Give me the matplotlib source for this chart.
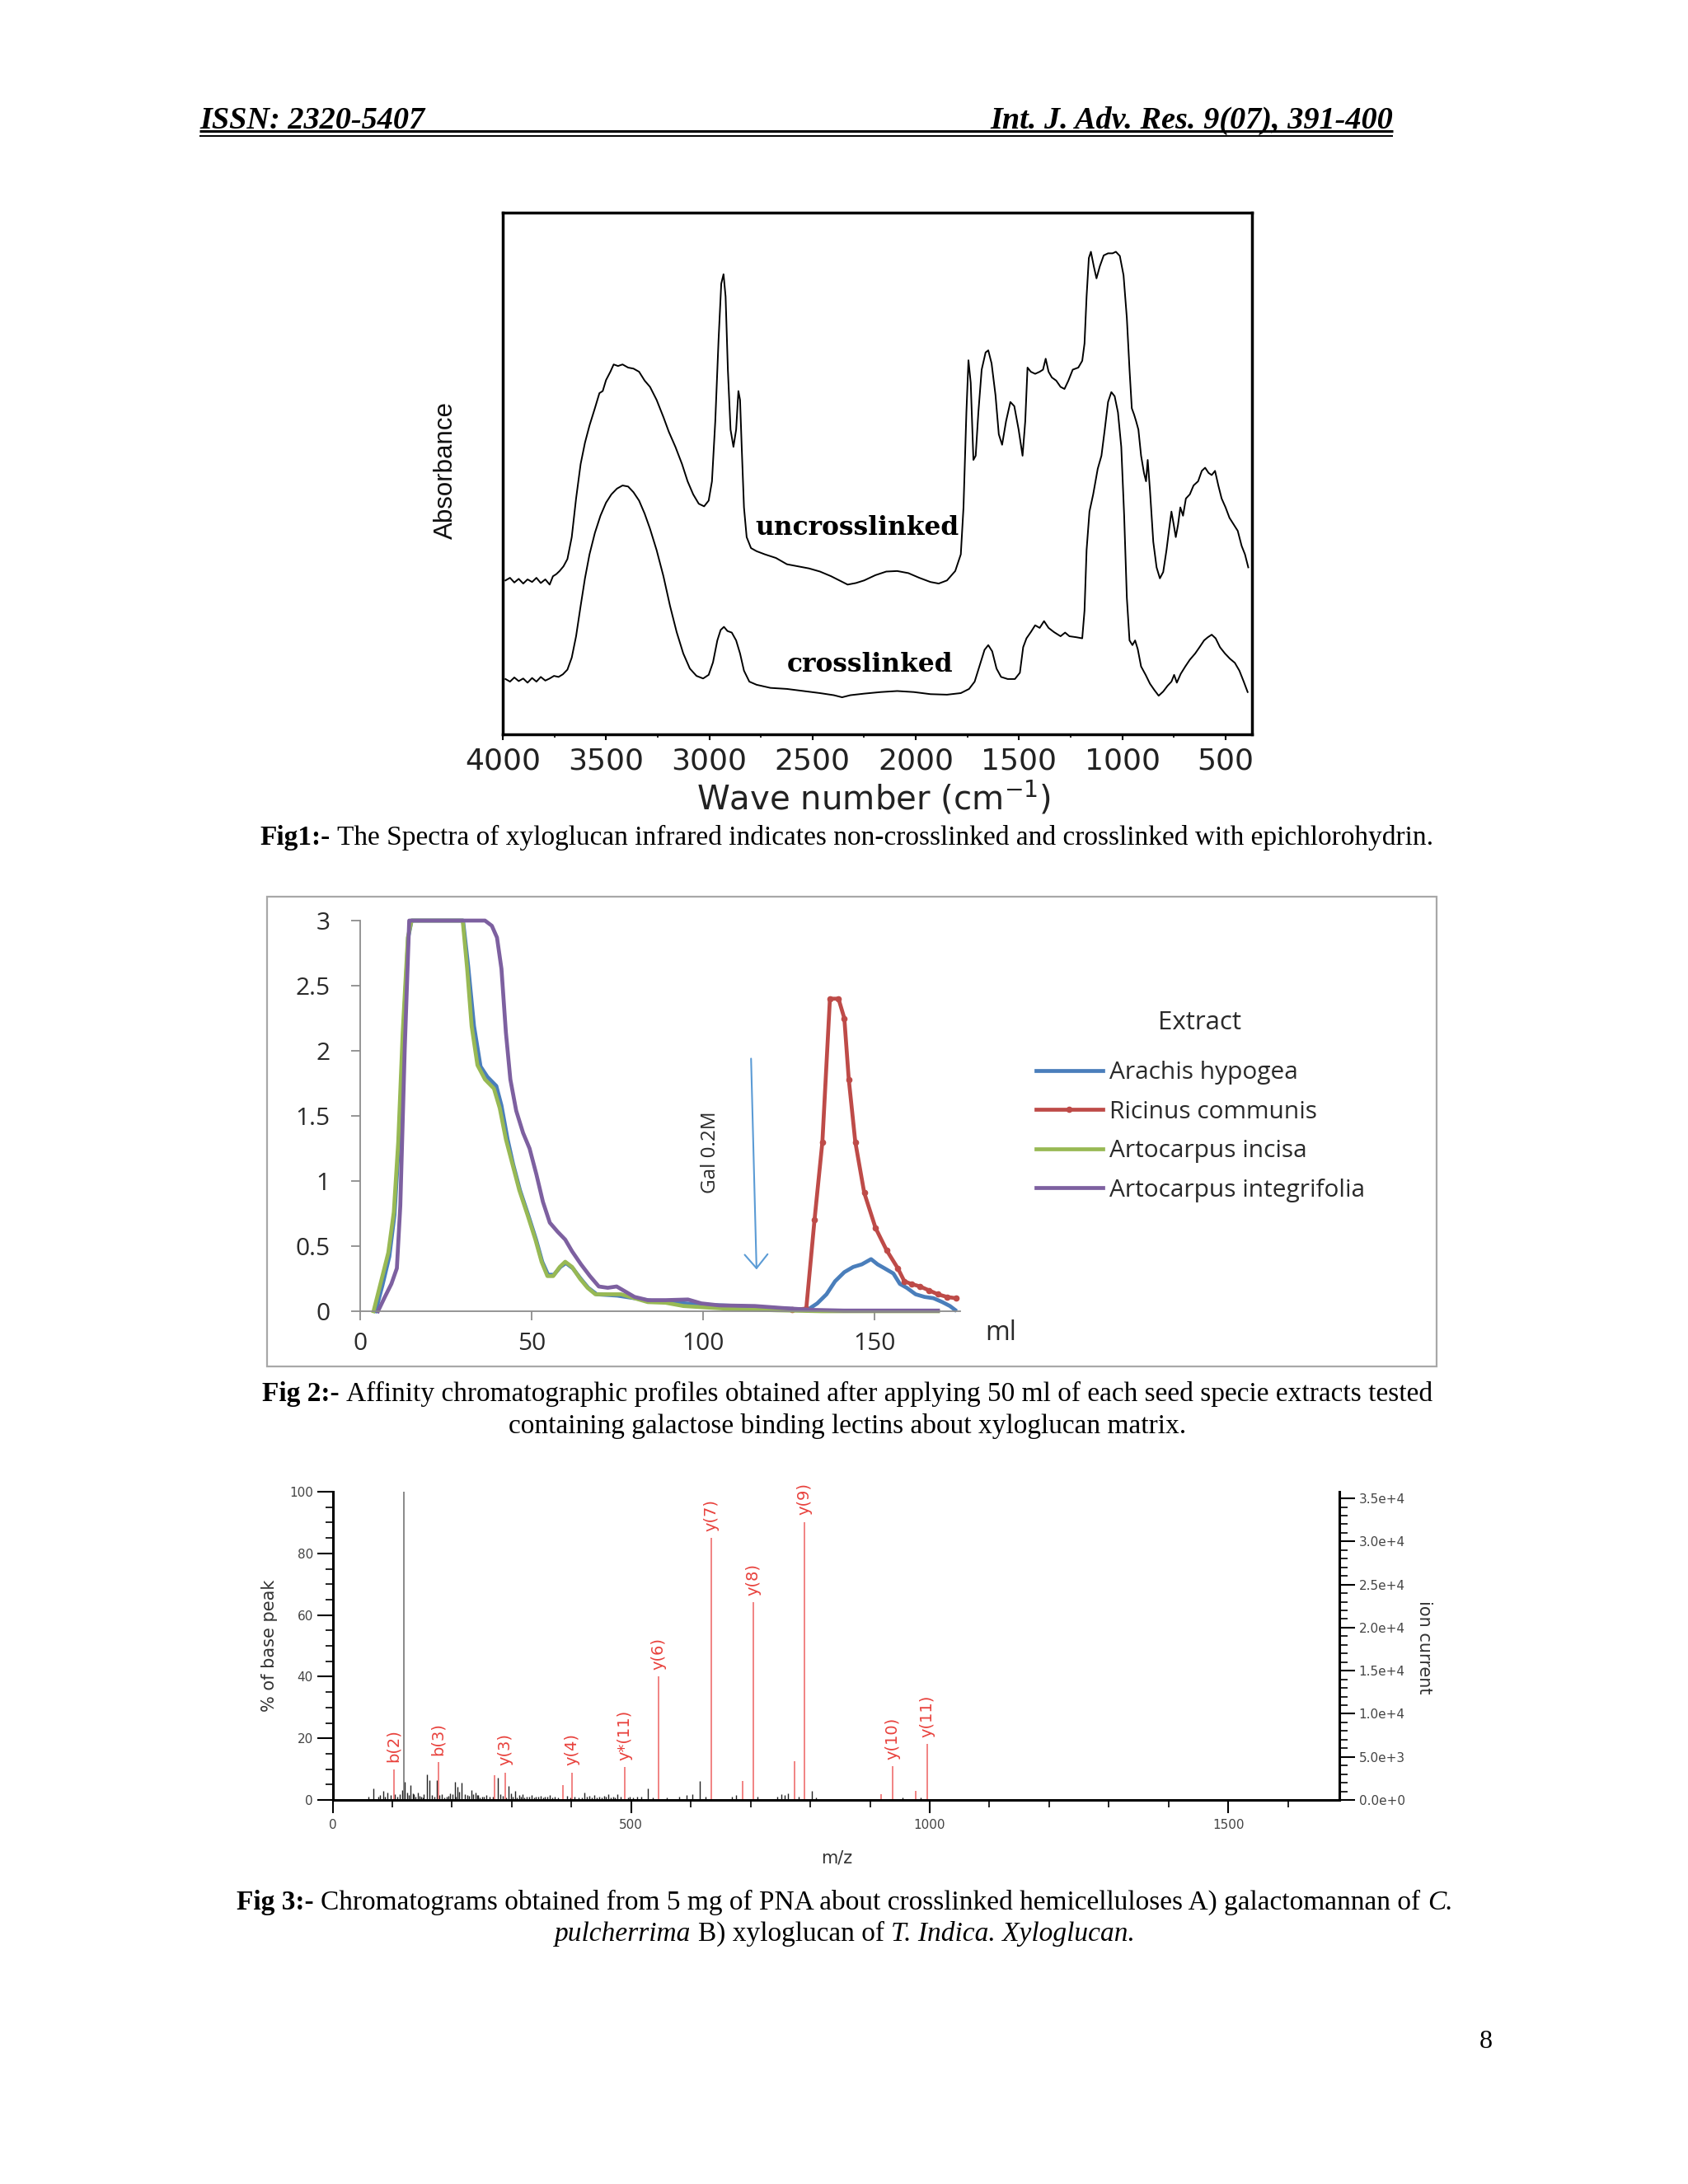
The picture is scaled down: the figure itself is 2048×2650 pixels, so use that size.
import matplotlib
matplotlib.use('Agg')
import matplotlib.pyplot as plt
from matplotlib.patches import Rectangle
from matplotlib.ticker import MultipleLocator

W, H = 2048, 2650

# ---------------- Fig 1: IR spectra (absorbance in arbitrary units) ----------------
UNCROSS_WN = [
    3987, 3965, 3944, 3923, 3901, 3880, 3858, 3837, 3816, 3794,
    3773, 3757, 3741, 3725, 3706, 3687, 3666, 3645, 3623, 3602,
    3580, 3554, 3532, 3516, 3500, 3479, 3463, 3442, 3420, 3393,
    3367, 3340, 3313, 3287, 3255, 3222, 3196, 3164, 3132, 3105,
    3078, 3051, 3025, 3003, 2987, 2971, 2955, 2942, 2931, 2921,
    2910, 2897, 2883, 2870, 2859, 2851, 2843, 2832, 2819, 2798,
    2771, 2731, 2677, 2624, 2570, 2517, 2464, 2410, 2370, 2330,
    2290, 2250, 2196, 2143, 2090, 2036, 1983, 1929, 1889, 1849,
    1809, 1782, 1769, 1755, 1745, 1734, 1721, 1710, 1697, 1681,
    1662, 1649, 1633, 1614, 1598, 1582, 1563, 1542, 1523, 1502,
    1483, 1470, 1459, 1443, 1422, 1400, 1384, 1371, 1357, 1341,
    1320, 1299, 1280, 1261, 1240, 1213, 1194, 1183, 1173, 1162,
    1152, 1138, 1125, 1109, 1090, 1069, 1047, 1031, 1012, 994,
    978, 965, 954, 943, 933, 922, 909, 895, 885, 877,
    866, 850, 834, 818, 802, 786, 773, 762, 751, 741,
    730, 719, 706, 692, 673, 655, 633, 615, 599, 582,
    567, 551, 535, 519, 500, 481, 460, 441, 422, 406,
    390]
UNCROSS_ABS = [
    .295, .300, .291, .298, .289, .297, .292, .300, .290, .297,
    .287, .303, .307, .313, .322, .336, .378, .452, .518, .559,
    .592, .625, .654, .658, .679, .695, .709, .706, .709, .703,
    .701, .695, .678, .666, .641, .608, .580, .551, .518, .485,
    .460, .442, .437, .448, .485, .600, .757, .864, .882, .839,
    .699, .584, .551, .584, .658, .641, .551, .435, .378, .357,
    .351, .345, .338, .326, .322, .318, .312, .303, .295, .287,
    .290, .295, .305, .312, .313, .309, .300, .292, .289, .295,
    .313, .345, .435, .617, .717, .674, .526, .534, .617, .699,
    .732, .736, .711, .650, .575, .555, .600, .637, .629, .584,
    .534, .600, .703, .695, .691, .695, .699, .720, .695, .684,
    .678, .666, .662, .678, .699, .703, .716, .749, .839, .913,
    .925, .897, .874, .897, .918, .922, .922, .925, .917, .880,
    .798, .699, .625, .613, .600, .584, .534, .501, .485, .526,
    .468, .369, .320, .299, .311, .353, .394, .427, .402, .378,
    .402, .435, .419, .452, .460, .477, .485, .505, .511, .501,
    .497, .505, .477, .452, .435, .415, .402, .390, .361, .345,
    .320]
CROSS_WN = [
    3987, 3965, 3944, 3923, 3901, 3880, 3858, 3837, 3816, 3794,
    3773, 3752, 3730, 3709, 3687, 3666, 3645, 3623, 3602, 3580,
    3554, 3527, 3500, 3474, 3447, 3420, 3393, 3367, 3340, 3313,
    3287, 3255, 3222, 3190, 3158, 3126, 3094, 3062, 3030, 3003,
    2982, 2961, 2945, 2929, 2912, 2891, 2870, 2851, 2832, 2806,
    2771, 2704, 2624, 2544, 2464, 2397, 2357, 2317, 2250, 2170,
    2090, 2009, 1929, 1849, 1782, 1742, 1715, 1689, 1667, 1649,
    1630, 1609, 1587, 1555, 1520, 1496, 1480, 1464, 1443, 1422,
    1400, 1379, 1357, 1331, 1299, 1277, 1256, 1221, 1194, 1183,
    1173, 1159, 1141, 1119, 1101, 1085, 1069, 1053, 1037, 1021,
    1005, 991, 978, 965, 951, 938, 925, 909, 887, 866,
    845, 824, 802, 781, 762, 749, 736, 717, 695, 673,
    647, 626, 604, 586, 567, 548, 527, 503, 479, 455,
    433, 412, 393]
CROSS_ABS = [
    .106, .101, .109, .102, .107, .099, .108, .101, .110, .103,
    .107, .112, .110, .115, .124, .147, .188, .246, .299, .345,
    .386, .419, .444, .460, .471, .477, .475, .464, .448, .423,
    .394, .353, .303, .246, .196, .155, .126, .112, .107, .114,
    .138, .180, .200, .206, .198, .195, .180, .155, .122, .101,
    .095, .089, .087, .083, .079, .075, .071, .075, .078, .081,
    .083, .081, .077, .076, .079, .087, .101, .134, .162, .171,
    .159, .126, .110, .106, .106, .118, .167, .184, .196, .209,
    .204, .217, .204, .196, .188, .195, .188, .186, .184, .237,
    .353, .427, .460, .509, .534, .584, .637, .656, .648, .617,
    .551, .419, .262, .180, .171, .180, .163, .130, .114, .097,
    .085, .074, .082, .093, .101, .114, .099, .116, .130, .143,
    .155, .167, .180, .186, .191, .184, .167, .155, .145, .137,
    .122, .101, .081]
WN_TICKS = [4000, 3500, 3000, 2500, 2000, 1500, 1000, 500]

# ---------------- Fig 2: affinity chromatography ----------------
SPECIES = ['Arachis hypogea', 'Ricinus communis', 'Artocarpus incisa', 'Artocarpus integrifolia']
COLORS = ['#4a7ebb', '#be4b48', '#98b954', '#7d60a0']

ARACHIS_ML = [4.5, 6.5, 8.5, 10, 11.3, 12.6, 14, 15, 30, 31.5, 33.2, 35.1, 37.1, 39.7,
              41.2, 43, 44.6, 46.6, 49, 51.3, 53.1, 54.8, 56.5, 58.4, 60, 62, 64.3, 66.5,
              69, 75, 80, 85, 90, 95, 100, 110, 120, 128, 131, 133.3, 136, 138.5, 141.2,
              143.8, 146.3, 149, 150.9, 152.9, 155.5, 157.4, 159.4, 162, 164.6, 167.2,
              169.8, 172, 173.5]
ARACHIS_ABS = [0, 0.2, 0.42, 0.74, 1.3, 2.14, 2.87, 3.0, 3.0, 2.65, 2.19, 1.88, 1.80, 1.73,
               1.58, 1.32, 1.13, 0.93, 0.74, 0.55, 0.38, 0.28, 0.28, 0.34, 0.37, 0.33, 0.25, 0.18,
               0.13, 0.12, 0.10, 0.08, 0.07, 0.06, 0.05, 0.04, 0.025, 0.015, 0.02, 0.06, 0.13,
               0.23, 0.30, 0.34, 0.36, 0.40, 0.36, 0.33, 0.29, 0.21, 0.18, 0.13, 0.11, 0.10,
               0.07, 0.04, 0.01]
RICINUS_ML = [126, 130.1, 132.5, 134.8, 137, 139.5, 141.2, 142.5, 144.4, 147, 150.3, 153.5,
              156.8, 158.7, 160.7, 163.3, 165.9, 168.5, 171.1, 173.7]
RICINUS_ABS = [0.01, 0.02, 0.7, 1.30, 2.4, 2.4, 2.25, 1.78, 1.30, 0.91, 0.64, 0.47,
               0.33, 0.23, 0.21, 0.19, 0.16, 0.13, 0.11, 0.10]
INCISA_ML = [3.9, 6.1, 8.2, 9.8, 11.1, 12.4, 13.9, 15.0, 29.9, 31.2, 32.5, 34.2, 36.4, 39.0,
             40.7, 42.5, 44.4, 46.4, 48.8, 51.1, 52.9, 54.6, 56.3, 58.2, 59.8, 61.8, 64.1,
             66.3, 68.6, 72.2, 76.1, 80.0, 83.9, 89.1, 94.3, 100.2, 108.6, 121.6, 134.6, 168.5]
INCISA_ABS = [0, 0.23, 0.45, 0.76, 1.30, 2.14, 2.87, 3.0, 3.0, 2.63, 2.19, 1.89, 1.78, 1.71,
              1.56, 1.32, 1.13, 0.93, 0.74, 0.55, 0.38, 0.27, 0.27, 0.34, 0.38, 0.34, 0.25,
              0.18, 0.13, 0.13, 0.13, 0.10, 0.07, 0.065, 0.04, 0.03, 0.017, 0.007, 0, 0]
INTEGRI_ML = [5.2, 7.2, 9.1, 10.7, 11.7, 13.0, 14.3, 36.4, 38.4, 39.9, 41.2, 42.5, 43.8, 45.5,
              47.5, 49.4, 51.4, 53.3, 55.3, 57.6, 59.8, 61.8, 64.4, 67.0, 69.6, 72.2, 74.8,
              77.4, 80.0, 83.9, 89.1, 95.6, 99.5, 104.7, 115.1, 122.9, 132.0, 141.1, 168.5]
INTEGRI_ABS = [0, 0.11, 0.21, 0.33, 0.81, 2.02, 3.0, 3.0, 2.96, 2.87, 2.63, 2.14, 1.78, 1.54,
               1.37, 1.25, 1.05, 0.84, 0.68, 0.61, 0.55, 0.46, 0.36, 0.27, 0.19, 0.18, 0.19,
               0.15, 0.11, 0.085, 0.085, 0.09, 0.06, 0.045, 0.04, 0.025, 0.01, 0.005, 0.005]
ML_TICKS = [0, 50, 100, 150]
ABS_TICKS = [0, 0.5, 1, 1.5, 2, 2.5, 3]
ABS_TICK_LABELS = ['0', '0.5', '1', '1.5', '2', '2.5', '3']
GAL_START_ML, GAL_END_ML = 114, 115.6
GAL_START_ABS, GAL_END_ABS = 1.94, 0.32

# ---------------- Fig 3: MS/MS spectrum ----------------
ION_LABELS = ['b(2)', 'b(3)', 'y(3)', 'y(4)', 'y*(11)', 'y(6)', 'y(7)', 'y(8)', 'y(9)', 'y(10)', 'y(11)']
ION_MZ = [102.3, 177, 289, 401.6, 489.5, 545.8, 633.6, 704.2, 790.8, 937.7, 995.5]
ION_PCT = [10.0, 12.2, 8.9, 8.9, 10.7, 40.1, 85.0, 64.2, 90.2, 10.9, 18.2]
OTHER_RED_MZ = [271.5, 385.5, 687.1, 773, 919, 976.8]
OTHER_RED_PCT = [8.0, 4.8, 6.2, 12.7, 1.8, 3.0]
BASE_PEAK_MZ = 119.3
NOISE_MZ = [59.5, 68.7, 76, 84.8, 91.7, 97, 112.4, 116, 120.7, 125, 131, 136, 142.5, 148, 153,
            157.7, 161.8, 166, 174.9, 183, 191, 197, 204.8, 209.4, 212, 216.3, 221, 226, 232.4,
            236, 239.3, 244, 250, 257.7, 263, 276.1, 281, 294.5, 299, 306, 312, 318, 325, 333,
            340, 348, 356, 364, 372, 392, 421.4, 430, 438, 446, 455, 462, 470, 477, 498, 510,
            528.5, 560, 580, 593, 602, 615, 624, 669, 676, 712, 744, 752, 757, 763, 780, 802,
            810, 955, 985,
            80, 88, 104, 109, 127, 134, 139, 145, 151, 171, 179, 187, 194, 201, 207, 229, 242,
            247, 253, 268, 285, 290, 302, 309, 315, 321, 329, 337, 344, 352, 360, 368, 378,
            398, 405, 412, 417, 426, 434, 442, 451, 458, 466, 473, 482, 495, 503, 517, 536]
NOISE_PCT = [1.0, 3.7, 1.2, 2.9, 2.4, 1.5, 2.0, 3.2, 6.0, 2.5, 4.8, 1.8, 2.4, 1.2, 2.0,
             8.4, 6.4, 1.5, 6.4, 1.8, 1.0, 2.2, 6.0, 4.2, 2.6, 5.5, 2.0, 1.6, 3.3,
             2.0, 2.4, 1.5, 1.2, 1.5, 1.0, 7.1, 2.0, 4.5, 2.2, 2.9, 1.5, 1.8, 1.2, 1.5,
             1.0, 1.4, 1.2, 1.6, 1.0, 1.3, 2.4, 1.3, 1.6, 1.0, 1.4, 1.8, 1.2, 2.0, 1.0, 1.2,
             3.7, 0.8, 1.0, 1.5, 2.0, 6.2, 1.0, 1.0, 1.5, 1.0, 1.2, 2.0, 1.5, 2.2, 1.0, 3.0,
             0.8, 0.8, 0.8,
             1.5, 1.0, 1.8, 1.2, 1.6, 2.2, 1.0, 1.4, 0.9, 1.2, 1.5, 0.8, 1.3, 1.9, 1.1, 1.4, 1.7,
             0.9, 1.2, 1.0, 1.3, 0.8, 1.1, 0.9, 1.2, 0.8, 1.0, 0.9, 1.1, 0.8, 1.0, 0.9, 0.8,
             0.9, 1.0, 0.8, 0.9, 1.1, 0.8, 0.9, 0.8, 1.0, 0.9, 0.8, 1.1, 0.9, 0.8, 1.0, 0.9]
BASE_PEAK_COUNTS = 35770
CURRENT_TICKS = [0, 5000, 10000, 15000, 20000, 25000, 30000, 35000]
CURRENT_TICK_LABELS = ['0.0e+0', '5.0e+3', '1.0e+4', '1.5e+4', '2.0e+4', '2.5e+4', '3.0e+4', '3.5e+4']


fig = plt.figure(figsize=(W / 100, H / 100), dpi=100)
fig.patch.set_facecolor('white')


def box(x0, y0, x1, y1):
    # page pixel box -> figure fraction rect
    return [x0 / W, 1 - y1 / H, (x1 - x0) / W, (y1 - y0) / H]


# page layer in pixel coordinates (y down)
page = fig.add_axes([0, 0, 1, 1])
page.set_xlim(0, W)
page.set_ylim(H, 0)
page.axis('off')

SERIF = 'Liberation Serif'


def caption_line(parts, xc, y, size=24):
    # parts: (text, weight, style); consecutive runs separated by a space
    first = prev = None
    for s, weight, style in parts:
        kw = dict(family=SERIF, fontsize=size, weight=weight, style=style, color='black')
        if prev is None:
            t = page.text(0, y, s, ha='left', va='baseline', **kw)
            first = t
        else:
            t = page.annotate(s, xy=(1, 0), xycoords=prev, xytext=(0.25 * size, 0),
                              textcoords='offset points', ha='left', va='bottom', **kw)
        prev = t
    r = fig.canvas.get_renderer()
    x0 = first.get_window_extent(r).x0
    x1 = prev.get_window_extent(r).x1
    first.set_x(xc - (x1 - x0) / 2)


# header
hdr = dict(family=SERIF, weight='bold', style='italic', fontsize=27.5)
page.text(242, 156, 'ISSN: 2320-5407', ha='left', va='baseline', **hdr)
page.text(1690, 156, 'Int. J. Adv. Res. 9(07), 391-400', ha='right', va='baseline', **hdr)
page.plot([242, 1690], [159, 159], color='black', lw=2.2, solid_capstyle='butt')
page.plot([242, 1690], [165, 165], color='black', lw=1.4, solid_capstyle='butt')

# ---------------- Fig 1 ----------------
ax1 = fig.add_axes(box(610, 258, 1519, 891))
ax1.plot(UNCROSS_WN, UNCROSS_ABS, color='black', lw=1.4)
ax1.plot(CROSS_WN, CROSS_ABS, color='black', lw=1.4)
ax1.set_xlim(4000, 372)
ax1.set_ylim(0, 1)
ax1.set_yticks([])
ax1.set_xticks(WN_TICKS)
ax1.xaxis.set_minor_locator(MultipleLocator(250))
ax1.tick_params(axis='x', which='major', length=5, width=1.5, pad=6, labelsize=26,
                labelfontfamily='DejaVu Sans', labelcolor='#222222')
ax1.tick_params(axis='x', which='minor', length=3, width=1.2)
for s in ax1.spines.values():
    s.set_linewidth(2.5)
ax1.text(2284, 0.395, 'uncrosslinked', ha='center', va='center',
         family='DejaVu Serif', weight='bold', fontsize=22.5)
ax1.text(2220, 0.133, 'crosslinked', ha='center', va='center',
         family='DejaVu Serif', weight='bold', fontsize=22.5)
page.text(541, 571, 'Absorbance', rotation=90, ha='center', va='center',
          family='Liberation Sans', fontsize=22.5, color='#111111')
page.text(1060, 983, r'Wave number (cm$^{-1}$)', ha='center', va='baseline',
          family='DejaVu Sans', fontsize=29, color='#222222')

caption_line([('Fig1:-', 'bold', 'normal'),
              ('The Spectra of xyloglucan infrared indicates non-crosslinked and crosslinked with epichlorohydrin.',
               'normal', 'normal')], 1027, 1025)

# ---------------- Fig 2 ----------------
page.add_patch(Rectangle((324, 1088), 1419, 570, fill=False, edgecolor='#a8a8a8', lw=1.6))
ax2 = fig.add_axes(box(437, 1117, 1165, 1591))
ax2.plot(ARACHIS_ML, ARACHIS_ABS, color=COLORS[0], lw=3.4, clip_on=False, label=SPECIES[0])
ax2.plot(RICINUS_ML, RICINUS_ABS, color=COLORS[1], lw=3.4, marker='o', ms=4.5, clip_on=False, label=SPECIES[1])
ax2.plot(INCISA_ML, INCISA_ABS, color=COLORS[2], lw=3.4, clip_on=False, label=SPECIES[2])
ax2.plot(INTEGRI_ML, INTEGRI_ABS, color=COLORS[3], lw=3.4, clip_on=False, label=SPECIES[3])
ax2.set_xlim(0, 175)
ax2.set_ylim(0, 3)
ax2.set_xticks(ML_TICKS)
ax2.set_yticks(ABS_TICKS)
ax2.set_yticklabels(ABS_TICK_LABELS)
ax2.patch.set_alpha(0)
ax2.spines[['top', 'right']].set_visible(False)
for side in ['left', 'bottom']:
    ax2.spines[side].set_color('#8c8c8c')
    ax2.spines[side].set_linewidth(1.3)
ax2.tick_params(axis='both', length=8, width=1.3, color='#8c8c8c', labelsize=21.5,
                labelfontfamily='Open Sans', labelcolor='#2a2a2a')
ax2.tick_params(axis='y', pad=18)
ax2.tick_params(axis='x', pad=10)
ax2.annotate('', xy=(GAL_END_ML, GAL_END_ABS), xytext=(GAL_START_ML, GAL_START_ABS),
             arrowprops=dict(arrowstyle='->,head_length=0.6,head_width=0.5', color='#5b9bd5',
                             lw=1.5, mutation_scale=20, shrinkA=0, shrinkB=0))
page.text(862, 1398, 'Gal 0.2M', rotation=90, ha='center', va='center',
          family='Open Sans', fontsize=17.5, color='#2a2a2a')
page.text(1214, 1618, 'ml', ha='center', va='center', family='Open Sans', fontsize=23, color='#2a2a2a')
leg = ax2.legend(loc='center left', bbox_to_anchor=(1257 / W, 1 - 1373 / H),
                 bbox_transform=fig.transFigure, frameon=False, borderpad=0, borderaxespad=0,
                 handlelength=2.7, handletextpad=0.27, labelspacing=0.62,
                 prop=dict(family='Open Sans', size=21.5))
for t in leg.get_texts():
    t.set_color('#2a2a2a')
page.text(1455, 1241, 'Extract', ha='center', va='center', family='Open Sans', fontsize=22.5,
          color='#2a2a2a')

caption_line([('Fig 2:-', 'bold', 'normal'),
              ('Affinity chromatographic profiles obtained after applying 50 ml of each seed specie extracts tested',
               'normal', 'normal')], 1028, 1700)
caption_line([('containing galactose binding lectins about xyloglucan matrix.', 'normal', 'normal')], 1028, 1739)

# ---------------- Fig 3 ----------------
ax3 = fig.add_axes(box(403.5, 1810, 1625, 2184))
ax3.vlines(NOISE_MZ, 0, NOISE_PCT, colors='#222222', lw=1.0)
ax3.vlines(OTHER_RED_MZ, 0, OTHER_RED_PCT, colors='#f07a7a', lw=1.3)
ax3.vlines(ION_MZ, 0, ION_PCT, colors='#f07a7a', lw=1.3)
ax3.vlines([BASE_PEAK_MZ], 0, [100], colors='#808080', lw=1.3)
for lab, mz, pct in zip(ION_LABELS, ION_MZ, ION_PCT):
    ax3.annotate(lab, xy=(mz, pct), xytext=(0, 6), textcoords='offset points', rotation=90,
                 ha='center', va='bottom', color='#e8413c', fontsize=14, family='DejaVu Sans')
ax3.set_xlim(0, 1686)
ax3.set_ylim(0, 100)
ax3.set_xticks([0, 500, 1000, 1500])
ax3.xaxis.set_minor_locator(MultipleLocator(100))
ax3.set_yticks([0, 20, 40, 60, 80, 100])
ax3.yaxis.set_minor_locator(MultipleLocator(5))
ax3.spines[['top', 'right']].set_visible(False)
for side in ['left', 'bottom']:
    ax3.spines[side].set_linewidth(2.2)
ax3.tick_params(which='major', length=13.5, width=1.5, pad=3.5, labelsize=11, labelcolor='#444444')
ax3.tick_params(which='minor', length=6.5, width=1.2)
ax3.tick_params(axis='x', which='major', length=11.5, pad=5)
axr = ax3.twinx()
axr.set_ylim(0, BASE_PEAK_COUNTS)
axr.set_yticks(CURRENT_TICKS)
axr.set_yticklabels(CURRENT_TICK_LABELS)
axr.yaxis.set_minor_locator(MultipleLocator(1000))
axr.spines[['top', 'left', 'bottom']].set_visible(False)
axr.spines['right'].set_linewidth(2.2)
axr.tick_params(which='major', length=13.5, width=1.5, pad=3.5, labelsize=11, labelcolor='#444444')
axr.tick_params(which='minor', length=7, width=1.2)
page.text(327, 1997, '% of base peak', rotation=90, ha='center', va='center', fontsize=15, color='#333333')
page.text(1728, 1999, 'ion current', rotation=270, ha='center', va='center', fontsize=15, color='#333333')
page.text(1015, 2255, 'm/z', ha='center', va='center', fontsize=15, color='#333333')

caption_line([('Fig 3:-', 'bold', 'normal'),
              ('Chromatograms obtained from 5 mg of PNA about crosslinked hemicelluloses A) galactomannan of',
               'normal', 'normal'),
              ('C.', 'normal', 'italic')], 1025, 2317)
caption_line([('pulcherrima', 'normal', 'italic'), ('B) xyloglucan of', 'normal', 'normal'),
              ('T. Indica. Xyloglucan.', 'normal', 'italic')], 1025, 2355)

page.text(1803, 2485, '8', ha='center', va='baseline', family=SERIF, fontsize=23)

fig.savefig('out.png', dpi=100, facecolor='white')
